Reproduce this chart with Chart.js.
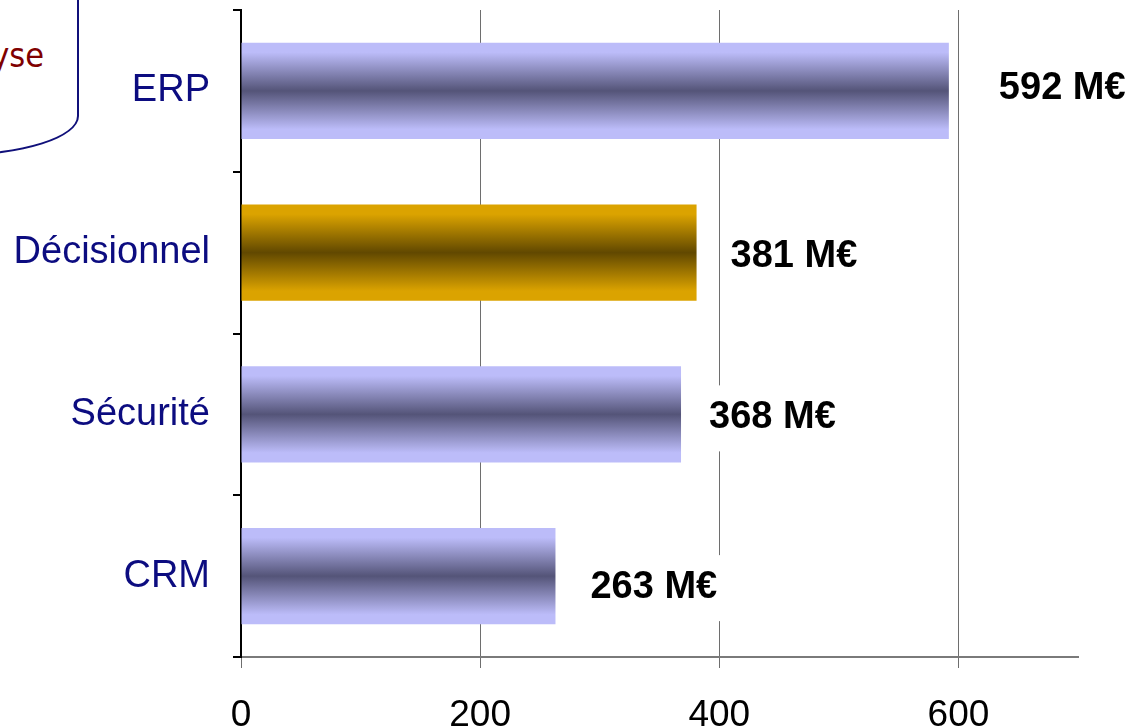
<!DOCTYPE html>
<html>
<head>
<meta charset="utf-8">
<script src="https://cdn.jsdelivr.net/npm/chart.js@4.4.1/dist/chart.umd.min.js"></script>
<style>
  html, body { margin: 0; padding: 0; background: #fff; overflow: hidden; }
  #wrap { position: relative; width: 1134px; height: 728px; overflow: hidden; }
  #note {
    position: absolute; left: -200px; top: -60px; width: 279px; height: 216px;
    border: 2px solid #10107a; border-bottom-right-radius: 125px 40px;
    box-sizing: border-box;
  }
  #noteText {
    position: absolute; left: -300px; top: 38px; width: 344px; text-align: right;
    font-family: "DejaVu Sans Condensed", "DejaVu Sans", Verdana, sans-serif; font-size: 34px; line-height: 34px;
    color: #800000; white-space: nowrap;
  }
  canvas { position: absolute; left: 0; top: 0; }
</style>
</head>
<body>
<div id="wrap">
  <div id="note"></div>
  <div id="noteText">Analyse</div>
  <canvas id="c" width="1134" height="728"></canvas>
</div>
<script>
const categories = ["ERP", "Décisionnel", "Sécurité", "CRM"];
const values = [592, 381, 368, 263];
const valueLabels = ["592 M€", "381 M€", "368 M€", "263 M€"];
const xTicks = [0, 200, 400, 600];
const xMax = 700;

const barStyles = [
  { light: "#bcbcf9", dark: "#545478" },
  { light: "#dba300", dark: "#614800" },
  { light: "#bcbcf9", dark: "#545478" },
  { light: "#bcbcf9", dark: "#545478" }
];

const gradientPlugin = {
  id: "gradientBars",
  beforeDatasetsDraw(chart) {
    const ctx = chart.ctx;
    const meta = chart.getDatasetMeta(0);
    meta.data.forEach((el, i) => {
      const top = el.y - el.height / 2, bot = el.y + el.height / 2;
      const g = ctx.createLinearGradient(0, top, 0, bot);
      const s = barStyles[i];
      g.addColorStop(0, s.light);
      g.addColorStop(0.1, s.light);
      g.addColorStop(0.5, s.dark);
      g.addColorStop(0.9, s.light);
      g.addColorStop(1, s.light);
      el.options.backgroundColor = g;
    });
  }
};

const labelPlugin = {
  id: "valueLabels",
  afterDatasetsDraw(chart, args, opts) {
    const ctx = chart.ctx;
    const meta = chart.getDatasetMeta(0);
    ctx.save();
    ctx.font = "bold 38px 'Liberation Sans', Arial, sans-serif";
    ctx.textBaseline = "alphabetic";
    ctx.textAlign = "left";
    meta.data.forEach((el, i) => {
      const txt = valueLabels[i];
      const x = el.x + opts.gaps[i];
      const cy = el.y + opts.dy[i];
      const w = ctx.measureText(txt).width;
      ctx.fillStyle = "#ffffff";
      ctx.fillRect(x - 4, cy - 29, w + 8, 66);
      ctx.fillStyle = "#000000";
      ctx.fillText(txt, x, cy + 13.5);
    });
    ctx.restore();
  }
};

new Chart(document.getElementById("c"), {
  type: "bar",
  data: {
    labels: categories,
    datasets: [{
      data: values,
      backgroundColor: barStyles.map(s => s.light),
      borderWidth: 0,
      barPercentage: 0.594,
      categoryPercentage: 1
    }]
  },
  options: {
    indexAxis: "y",
    responsive: false,
    devicePixelRatio: 1,
    animation: false,
    layout: { padding: { top: 10, right: 56, bottom: 0, left: 0 } },
    plugins: {
      legend: { display: false },
      tooltip: { enabled: false },
      valueLabels: { gaps: [50, 34, 28, 35], dy: [-5, 1, 0, 8] }
    },
    scales: {
      x: {
        min: 0, max: xMax,
        afterBuildTicks(scale) { scale.ticks = xTicks.map(v => ({ value: v })); },
        afterFit(scale) { scale.height = 71; scale.paddingLeft = 0; scale.paddingRight = 0; },
        grid: { color: "#6e6e6e", lineWidth: 1, tickLength: 11, drawTicks: true },
        border: { color: "#7a7a7a", width: 2 },
        ticks: {
          color: "#000",
          padding: 26,
          maxRotation: 0,
          font: { family: "'Liberation Sans', Arial", size: 37 }
        }
      },
      y: {
        afterFit(scale) { scale.width = 241; scale.paddingTop = 0; scale.paddingBottom = 0; },
        grid: { offset: true, drawOnChartArea: false, tickLength: 8, color: "#000", lineWidth: 2 },
        border: { color: "#000", width: 2 },
        ticks: {
          color: "#0c0c80",
          padding: 23,
          font: { family: "'Liberation Sans', Arial", size: 38 }
        }
      }
    }
  },
  plugins: [gradientPlugin, labelPlugin]
});
</script>
</body>
</html>
